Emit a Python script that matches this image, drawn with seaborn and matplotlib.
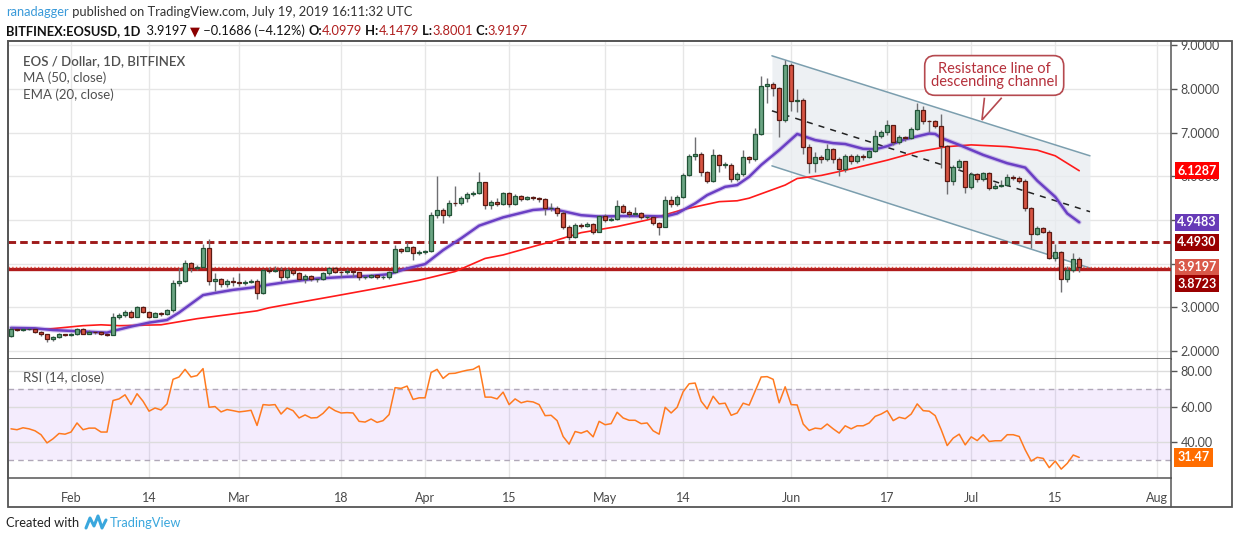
import numpy as np
import pandas as pd
import matplotlib
matplotlib.use('Agg')
import matplotlib.pyplot as plt
import matplotlib.dates as mdates
from matplotlib.patches import Rectangle, Polygon
from matplotlib.lines import Line2D
import seaborn as sns

# ---- data (daily candles, 2019-01-22 .. 2019-07-19) ----
start_date = '2019-01-22'
first_open = 2.35
closes = [
    2.50, 2.47, 2.50, 2.50, 2.44, 2.38, 2.27, 2.31, 2.38, 2.37,
    2.39, 2.50, 2.40, 2.44, 2.43, 2.38, 2.37, 2.77, 2.82, 2.90,
    2.79, 3.00, 2.90, 2.79, 2.86, 2.84, 2.93, 3.55, 3.61, 4.01,
    3.89, 3.93, 4.35, 3.61, 3.65, 3.53, 3.60, 3.57, 3.55, 3.58,
    3.60, 3.32, 3.85, 3.83, 3.86, 3.69, 3.86, 3.78, 3.64, 3.72,
    3.64, 3.64, 3.78, 3.89, 3.82, 3.80, 3.83, 3.80, 3.69, 3.70,
    3.73, 3.69, 3.70, 3.80, 4.33, 4.30, 4.39, 4.24, 4.27, 4.28,
    5.11, 5.24, 5.11, 5.40, 5.38, 5.50, 5.59, 5.62, 5.86, 5.34,
    5.41, 5.37, 5.61, 5.36, 5.56, 5.47, 5.53, 5.51, 5.47, 5.27,
    5.28, 5.17, 4.85, 4.60, 4.89, 4.86, 4.91, 4.73, 5.09, 5.00,
    5.03, 5.32, 5.19, 5.14, 5.15, 5.06, 5.08, 4.92, 4.85, 5.46,
    5.36, 5.53, 6.02, 6.47, 6.50, 6.09, 5.89, 6.48, 6.27, 6.27,
    5.93, 6.05, 6.44, 6.39, 6.97, 8.07, 8.11, 8.02, 7.30, 8.55,
    7.73, 7.74, 6.68, 6.30, 6.44, 6.39, 6.63, 6.39, 6.16, 6.47,
    6.34, 6.47, 6.45, 6.58, 6.92, 7.01, 7.17, 6.79, 6.89, 6.87,
    7.08, 7.52, 7.27, 7.26, 7.15, 6.69, 5.90, 6.21, 6.34, 5.76,
    6.05, 5.93, 6.07, 5.73, 5.79, 5.80, 5.98, 5.97, 5.90, 5.27,
    4.69, 4.81, 4.73, 4.12, 4.27, 3.66, 3.86, 4.10, 3.9197,
]
highs = [
    2.56, 2.52, 2.53, 2.53, 2.52, 2.46, 2.40, 2.34, 2.41, 2.40,
    2.42, 2.53, 2.52, 2.47, 2.46, 2.45, 2.40, 2.86, 2.86, 2.94,
    2.93, 3.04, 3.02, 2.92, 2.89, 2.90, 2.97, 3.62, 3.90, 4.08,
    4.03, 3.98, 4.45, 4.56, 3.78, 3.68, 3.66, 3.70, 3.78, 3.62,
    3.65, 3.64, 3.88, 3.93, 3.95, 3.93, 3.90, 3.88, 3.80, 3.76,
    3.75, 3.68, 3.81, 3.92, 3.92, 3.86, 3.87, 3.86, 3.82, 3.73,
    3.76, 3.75, 3.73, 3.83, 4.43, 4.36, 4.50, 4.40, 4.32, 4.32,
    5.18, 6.01, 5.28, 5.45, 5.78, 5.54, 5.65, 5.67, 6.09, 5.88,
    5.45, 5.50, 5.65, 5.64, 5.60, 5.58, 5.56, 5.55, 5.53, 5.50,
    5.38, 5.32, 5.20, 4.88, 4.93, 4.93, 4.96, 4.93, 5.12, 5.13,
    5.06, 5.46, 5.36, 5.22, 5.30, 5.18, 5.12, 5.10, 4.95, 5.55,
    5.55, 5.58, 6.08, 6.52, 6.89, 6.56, 6.12, 6.63, 6.50, 6.32,
    6.30, 6.10, 6.60, 6.46, 7.10, 8.30, 8.25, 8.15, 8.05, 8.66,
    8.60, 8.01, 7.80, 6.75, 6.55, 6.48, 6.75, 6.65, 6.45, 6.52,
    6.50, 6.52, 6.50, 6.62, 7.05, 7.06, 7.30, 7.18, 6.95, 6.92,
    7.12, 7.67, 7.60, 7.30, 7.30, 7.42, 6.72, 6.25, 6.40, 6.36,
    6.10, 6.08, 6.10, 6.09, 5.85, 5.92, 6.05, 6.02, 6.00, 5.95,
    5.30, 4.86, 4.83, 4.76, 4.45, 4.30, 3.95, 4.25, 4.1479,
]
lows = [
    2.33, 2.45, 2.45, 2.47, 2.42, 2.35, 2.21, 2.24, 2.29, 2.34,
    2.35, 2.37, 2.38, 2.38, 2.40, 2.36, 2.35, 2.36, 2.74, 2.78,
    2.76, 2.77, 2.87, 2.76, 2.77, 2.81, 2.82, 2.90, 3.50, 3.58,
    3.80, 3.86, 3.91, 3.51, 3.38, 3.46, 3.47, 3.50, 3.50, 3.52,
    3.55, 3.18, 3.30, 3.78, 3.80, 3.60, 3.66, 3.74, 3.60, 3.55,
    3.60, 3.58, 3.62, 3.75, 3.78, 3.70, 3.76, 3.70, 3.62, 3.65,
    3.67, 3.66, 3.66, 3.66, 3.78, 4.24, 4.28, 4.08, 4.20, 4.22,
    4.26, 5.05, 4.92, 5.08, 5.33, 5.35, 5.42, 5.55, 5.60, 5.25,
    5.25, 5.32, 5.35, 5.30, 5.34, 5.44, 5.45, 5.46, 5.42, 5.12,
    5.20, 5.10, 4.80, 4.55, 4.58, 4.82, 4.84, 4.68, 4.72, 4.96,
    4.97, 5.00, 5.15, 5.08, 5.10, 5.02, 5.02, 4.88, 4.66, 4.83,
    5.30, 5.32, 5.50, 6.00, 6.38, 6.00, 5.85, 5.88, 6.10, 6.20,
    5.88, 5.90, 6.00, 6.30, 6.36, 6.95, 7.67, 7.85, 6.89, 7.25,
    7.50, 7.48, 6.50, 6.07, 6.10, 6.30, 6.35, 6.30, 6.01, 6.10,
    6.28, 6.30, 6.38, 6.42, 6.55, 6.88, 6.95, 6.72, 6.75, 6.82,
    6.85, 7.05, 7.20, 7.02, 7.10, 6.20, 5.60, 5.80, 6.15, 5.62,
    5.72, 5.88, 5.90, 5.68, 5.70, 5.75, 5.78, 5.92, 5.85, 5.20,
    4.35, 4.66, 4.70, 4.10, 4.05, 3.36, 3.58, 3.80, 3.8001,
]
rsi14 = [
    47.5, 47.0, 48.1, 47.5, 46.4, 44.2, 39.6, 41.9, 44.9, 44.5,
    45.7, 50.8, 47.0, 47.9, 47.9, 45.7, 45.7, 63.4, 64.3, 66.6,
    61.1, 67.2, 63.0, 57.4, 59.2, 58.1, 61.5, 75.3, 76.6, 80.9,
    76.6, 77.4, 81.3, 59.6, 60.0, 57.0, 58.3, 57.7, 57.0, 57.4,
    57.9, 49.4, 61.1, 60.8, 61.1, 55.8, 59.2, 57.7, 53.6, 55.3,
    53.6, 53.8, 56.2, 59.8, 57.7, 56.4, 56.6, 56.4, 51.7, 51.3,
    53.0, 51.1, 52.1, 55.5, 70.6, 70.2, 71.5, 64.0, 64.9, 64.9,
    79.1, 80.9, 75.8, 78.5, 78.7, 79.6, 80.4, 80.9, 82.8, 65.3,
    65.3, 64.3, 68.1, 61.1, 64.3, 62.1, 63.0, 62.6, 61.1, 54.9,
    55.1, 52.1, 43.2, 38.9, 46.0, 45.1, 46.4, 43.0, 51.7, 49.8,
    50.4, 56.8, 53.6, 52.3, 52.3, 50.4, 50.8, 46.4, 44.5, 59.6,
    56.4, 59.6, 68.3, 72.8, 73.2, 63.0, 58.7, 65.8, 61.5, 61.9,
    55.1, 56.4, 61.9, 60.8, 68.7, 76.6, 76.8, 75.3, 62.1, 71.1,
    61.1, 60.9, 50.2, 46.6, 47.9, 47.5, 50.2, 47.5, 45.1, 49.2,
    47.5, 49.2, 49.2, 50.8, 54.5, 55.8, 57.7, 52.1, 54.0, 53.2,
    55.8, 61.5, 57.7, 57.4, 54.9, 47.0, 38.1, 42.3, 44.5, 38.5,
    43.0, 40.9, 44.2, 40.4, 40.8, 40.8, 44.2, 44.2, 43.2, 35.7,
    29.4, 31.5, 30.9, 25.7, 29.4, 24.9, 28.1, 32.8, 31.47,
]

# EMA(20) and MA(50) read at sample candles (index into the candle list)
ema20_idx = [0, 4, 7, 10, 16, 17, 20, 23, 26, 28, 30, 32, 34, 37, 40, 43, 46, 51,
             56, 60, 63, 66, 69, 72, 75, 78, 82, 87, 90, 93, 95, 98, 102, 106, 109,
             111, 114, 116, 119, 121, 123, 125, 128, 131, 134, 137, 139, 142, 144,
             146, 149, 153, 154, 155, 158, 162, 166, 169, 171, 174, 176, 178]
ema20_val = [2.53, 2.52, 2.48, 2.46, 2.42, 2.46, 2.56, 2.65, 2.71, 2.88, 3.08, 3.28,
             3.33, 3.40, 3.45, 3.52, 3.58, 3.66, 3.70, 3.72, 3.76, 3.89, 3.99, 4.31,
             4.58, 4.87, 5.06, 5.23, 5.26, 5.17, 5.11, 5.08, 5.09, 5.09, 5.08, 5.15,
             5.38, 5.57, 5.76, 5.80, 5.99, 6.26, 6.60, 6.97, 6.83, 6.76, 6.74, 6.63,
             6.62, 6.69, 6.85, 6.98, 6.97, 6.88, 6.72, 6.49, 6.30, 6.20, 5.90, 5.53,
             5.15, 4.9483]
ma50_idx = [0, 6, 12, 15, 18, 25, 31, 41, 43, 45, 54, 60, 65, 68, 74, 79, 82, 88,
            90, 95, 101, 106, 112, 118, 121, 123, 129, 131, 135, 140, 146, 151, 156,
            160, 166, 171, 174, 178]
ma50_val = [2.50, 2.50, 2.58, 2.60, 2.58, 2.60, 2.74, 2.92, 2.99, 3.04, 3.26, 3.41,
            3.54, 3.62, 3.82, 4.12, 4.20, 4.43, 4.50, 4.71, 4.85, 5.00, 5.24, 5.42,
            5.44, 5.50, 5.80, 5.95, 6.02, 6.17, 6.37, 6.56, 6.68, 6.72, 6.68, 6.60,
            6.47, 6.1287]

# descending channel drawn on the chart
chan_dates = ['2019-05-28 19:00', '2019-07-20 19:00']
chan_upper = [8.76, 6.47]
chan_mid = [7.50, 5.19]
chan_lower = [6.24, 3.90]

support_level = 3.8723
resist_level = 4.4930
last_price = 3.9197

note_text = 'Resistance line of\ndescending channel'
note_at = ('2019-07-04 20:00', 8.31)
note_tail_dates = ['2019-07-03 05:00', '2019-07-02 19:00', '2019-07-06 02:00']
note_tail_vals = [7.80, 7.29, 7.80]

price_ticks = [2, 3, 4, 5, 6, 7, 8, 9]
price_tick_labels = ['2.0000', '3.0000', '', '', '6.0000', '7.0000', '8.0000', '9.0000']

tick_dates = ['2019-02-01', '2019-02-14', '2019-03-01', '2019-03-18', '2019-04-01',
              '2019-04-15', '2019-05-01', '2019-05-14', '2019-06-01', '2019-06-17',
              '2019-07-01', '2019-07-15', '2019-08-01']
tick_labels = ['Feb', '14', 'Mar', '18', 'Apr', '15', 'May', '14', 'Jun', '17',
               'Jul', '15', 'Aug']

# ---- build ----
dates = pd.date_range(start_date, periods=len(closes), freq='D')
opens = [first_open] + closes[:-1]
opens[-1] = 4.0979
df = pd.DataFrame({'date': dates, 'open': opens, 'high': highs, 'low': lows,
                   'close': closes, 'rsi': rsi14})
df['up'] = df['close'] >= df['open']

sns.set_theme(style='white')
plt.rcParams['font.family'] = ['Lato', 'DejaVu Sans']

W, H = 1234, 540
fig = plt.figure(figsize=(W / 100, H / 100), dpi=100)
fig.patch.set_facecolor('white')


def rect(l, t, r, b):
    return [l / W, 1 - b / H, (r - l) / W, (b - t) / H]


axp = fig.add_axes(rect(8, 41, 1171, 359))
axr = fig.add_axes(rect(8, 359, 1171, 478), sharex=axp)

GRID = '#e6e6e6'
AXC = '#555555'
TXT = '#4a4a4a'
xt = pd.to_datetime(tick_dates)

# --- price pane ---
for v in price_ticks:
    axp.axhline(v, color=GRID, lw=1, zorder=0)
for d in xt:
    axp.axvline(d, color=GRID, lw=1, zorder=0)
    axr.axvline(d, color=GRID, lw=1, zorder=0)

cd = pd.to_datetime(chan_dates)
axp.fill_between(cd, chan_lower, chan_upper, color='#e8ecf0', alpha=0.75, lw=0, zorder=1)
sns.lineplot(x=cd, y=chan_upper, ax=axp, color='#7b9eae', lw=1.1, zorder=2)
sns.lineplot(x=cd, y=chan_lower, ax=axp, color='#7b9eae', lw=1.1, zorder=2)
axp.plot(cd, chan_mid, color='#222222', lw=1.1, dashes=(4, 4), zorder=2)

axp.axhline(resist_level, color='#9e1b1b', lw=2.1, dashes=(2.6, 1.4), zorder=3)
axp.axhline(support_level, color='#b01c1c', lw=2.4, zorder=3)
axp.axhline(last_price, color='#e2574a', lw=1.0, ls=':', zorder=3)

sns.lineplot(x=dates[ma50_idx], y=ma50_val, ax=axp, color='#ff1a1a', lw=1.2, zorder=4)
sns.lineplot(x=dates[ema20_idx], y=ema20_val, ax=axp, color='#7b4fd0', lw=3.4,
             alpha=0.3, zorder=4)
sns.lineplot(x=dates[ema20_idx], y=ema20_val, ax=axp, color='#6a3fc4', lw=1.8, zorder=4)

body_w = 0.66
colors_up = ('#6ba583', '#225437')
colors_dn = ('#d75442', '#5b1a13')
axp.vlines(df['date'], df['low'], df['high'], color='#6f6f72', lw=1, zorder=5)
for up, (fc, ec) in [(True, colors_up), (False, colors_dn)]:
    s = df[df['up'] == up]
    bottom = np.minimum(s['open'], s['close'])
    height = np.maximum((s['close'] - s['open']).abs(), 0.012)
    axp.bar(s['date'], height, bottom=bottom, width=body_w, color=fc,
            edgecolor=ec, lw=0.9, zorder=6)

axp.set_ylim(1.817, 9.099)
axp.set_yticks(price_ticks)
axp.set_yticklabels(price_tick_labels)
axp.yaxis.tick_right()
axp.tick_params(axis='y', length=4, width=1, color=AXC, pad=3, labelsize=9,
                labelcolor=TXT, right=True, left=False)
axp.tick_params(axis='x', length=0, labelbottom=False)
axp.set_xlabel('')
axp.set_ylabel('')

axp.text(15 / 1163, 1 - 20 / 318, 'EOS / Dollar, 1D, BITFINEX', transform=axp.transAxes,
         fontsize=9.5, color='#505050', fontweight='semibold', va='center')
axp.text(15 / 1163, 1 - 37 / 318, 'MA (50, close)', transform=axp.transAxes,
         fontsize=9.5, color='#505050', va='center')
axp.text(15 / 1163, 1 - 54 / 318, 'EMA (20, close)', transform=axp.transAxes,
         fontsize=9.5, color='#505050', va='center')

# annotation callout
nx = pd.Timestamp(note_at[0])
axp.text(nx, note_at[1], note_text, ha='center', va='center', fontsize=10.5,
         color='#b5303b', linespacing=0.95, zorder=9,
         bbox=dict(boxstyle='round,pad=0.42,rounding_size=0.7', fc='white',
                   ec='#b5494f', lw=1.2))
tx = mdates.date2num(pd.to_datetime(note_tail_dates))
tail = Polygon(np.column_stack([tx, note_tail_vals]), closed=False, fc='white',
               ec='#b5494f', lw=1.2, zorder=10)
axp.add_patch(tail)


def price_tag(ax, y, text, fc, dy=0, fs=9):
    ax.annotate(text, xy=(1, y), xycoords=('axes fraction', 'data'), xytext=(4.5, dy),
                textcoords='offset points', ha='left', va='center', color='white',
                fontsize=fs, fontweight='bold', annotation_clip=False, zorder=20,
                bbox=dict(boxstyle='square,pad=0.2', fc=fc, ec='none'))


price_tag(axp, 6.1287, '6.1287', '#ff0000')
price_tag(axp, 4.9483, '4.9483', '#673ab7')
price_tag(axp, resist_level, '4.4930', '#990000')
price_tag(axp, last_price, '3.9197', '#d9594a')
price_tag(axp, support_level, '3.8723', '#990000', dy=-10.5)

# --- RSI pane ---
axr.axhspan(30, 70, color='#9b59f5', alpha=0.11, lw=0, zorder=0)
for v in (40, 60, 80):
    axr.axhline(v, color='#dcdcdc', lw=1, zorder=0.5)
for v in (30, 70):
    axr.axhline(v, color='#b0a8b8', lw=1, dashes=(4, 3), zorder=1)
sns.lineplot(data=df, x='date', y='rsi', ax=axr, color='#ff7a1f', lw=1.1, zorder=3)
axr.set_ylim(19.9, 86.7)
axr.set_yticks([40, 60, 80])
axr.set_yticklabels(['40.00', '60.00', '80.00'])
axr.yaxis.tick_right()
axr.tick_params(axis='y', length=4, width=1, color=AXC, pad=3, labelsize=9,
                labelcolor=TXT, right=True, left=False)
axr.set_xticks(xt)
axr.set_xticklabels(tick_labels)
axr.tick_params(axis='x', length=0, pad=10, labelsize=9, labelcolor=TXT)
axr.set_xlabel('')
axr.set_ylabel('')
axr.text(15 / 1163, 1 - 19 / 119, 'RSI (14, close)', transform=axr.transAxes,
         fontsize=9.5, color='#505050', va='center')
axr.annotate('31.47', xy=(1, 31.47), xycoords=('axes fraction', 'data'),
             xytext=(4.5, 0), textcoords='offset points', ha='left', va='center',
             color='white', fontsize=9, fontweight='bold', annotation_clip=False,
             zorder=20, bbox=dict(boxstyle='square,pad=0.25', fc='#ff6d00', ec='none'))

axp.set_xlim(pd.Timestamp('2019-01-21 12:00'), pd.Timestamp('2019-08-03 07:00'))

for ax in (axp, axr):
    for sp in ax.spines.values():
        sp.set_color(AXC)
        sp.set_linewidth(1.1)
axr.spines['top'].set_visible(False)

# outer frame and axis separator
fig.add_artist(Rectangle((8 / W, 1 - 507 / H), (1232 - 8) / W, (507 - 41) / H,
                         transform=fig.transFigure, fill=False, ec=AXC, lw=1.3))
fig.add_artist(Line2D([1171 / W, 1171 / W], [1 - 478 / H, 1 - 507 / H],
                      transform=fig.transFigure, color=AXC, lw=1.1))

# header and footer
renderer = fig.canvas.get_renderer()


def put_seq(x_px, y_px, parts, fs):
    x = x_px
    for s, color, weight in parts:
        t = fig.text(x / W, 1 - y_px / H, s, color=color, fontweight=weight,
                     fontsize=fs, va='center', ha='left')
        x += t.get_window_extent(renderer=renderer).width


put_seq(6, 12, [('ranadagger', '#3a9ad9', 'normal'),
                (' published on TradingView.com, July 19, 2019 16:11:32 UTC', '#333333',
                 'normal')], 9.3)
RED = '#b01e1e'
put_seq(6, 31, [('BITFINEX:EOSUSD, 1D', '#111111', 'bold'),
                ('  3.9197 ', '#111111', 'normal'),
                ('▼', '#8b0000', 'normal'),
                (' \u22120.1686 (\u22124.12%) ', '#111111', 'normal'),
                ('O:', '#111111', 'bold'), ('4.0979', RED, 'normal'),
                (' H:', '#111111', 'bold'), ('4.1479', RED, 'normal'),
                (' L:', '#111111', 'bold'), ('3.8001', RED, 'normal'),
                (' C:', '#111111', 'bold'), ('3.9197', RED, 'normal')], 9.3)
put_seq(6, 523, [('Created with', '#222222', 'normal')], 9.3)
fig.text(110 / W, 1 - 523 / H, 'TradingView', color='#3aa7dd', fontsize=9.3,
         va='center', ha='left')
logo_x = [86, 90, 94, 98, 102, 106]
logo_y = [528, 518, 526, 516, 528, 520]
fig.add_artist(Line2D([v / W for v in logo_x], [1 - v / H for v in logo_y],
                      transform=fig.transFigure, color='#3aa7dd', lw=2.2))

fig.savefig('out.png', dpi=100, facecolor='white')
